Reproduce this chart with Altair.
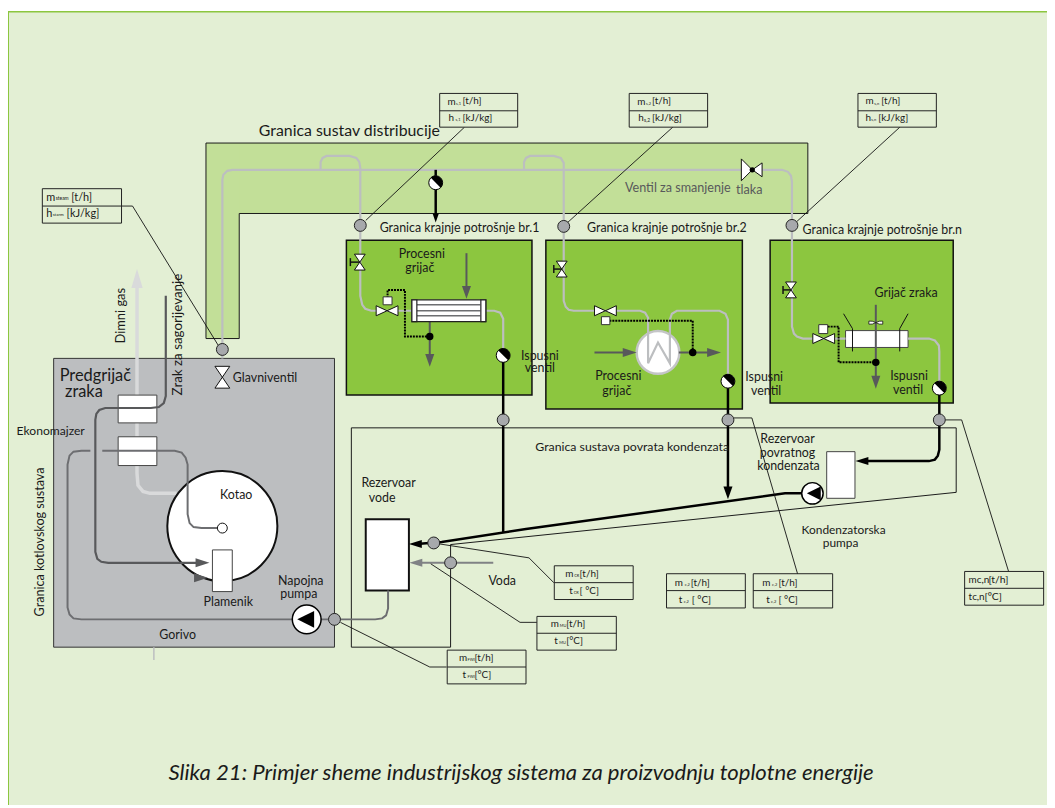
import altair as alt
import pandas as pd

FONT = "Lato"
BG = "#e3efd4"
GREEN = "#8cc63f"

# ---- filled regions: [left, top, right, bottom] -------------------------------
PANEL = [[8, 9, 1055, 808]]
FRAME_TOP = [[8, 8, 1055, 9.5]]
FRAME_LEFT = [[8, 8, 9, 808]]
DISTRIBUTION_A = [[207.5, 141, 814, 212]]
DISTRIBUTION_B = [[207.5, 141, 241, 338]]
BOILER_ZONE = [[54, 358, 337, 649]]
GREEN_BOXES = [[349, 239, 536, 395], [550, 239, 748, 409], [776, 239, 960.5, 403]]
WHITE_BOXES = [[119, 395, 158, 423], [119, 437, 158, 466],
               [833, 452, 861.5, 499], [852, 330, 915, 347]]
BURNER = [[214, 551, 234, 593]]
TANK = [[368.5, 520, 412, 592]]
EXCHANGER = [[415, 299, 489.5, 321]]
EXCHANGER_ENDS = [[415, 299, 420, 321], [484.5, 299, 489.5, 321]]
CTRL_SQUARES = [[386, 296, 395, 304], [606, 316, 614.5, 324], [825, 324, 834, 333]]
TABLES = [[42.6, 187, 122.4, 221.7], [443, 91, 521.6, 125], [634, 91, 713, 125],
          [864.5, 91, 943.5, 125], [450.6, 652, 530, 686], [558.5, 567, 638, 601],
          [541, 618, 621, 652], [671.6, 575, 751, 609.5], [759, 575, 839, 609.5],
          [972, 572.7, 1051.6, 606.7]]
TABLE_RULES = [[[42.6, 204.5], [122.4, 204.5]], [[443, 108.5], [521.6, 108.5]],
               [[634, 108.5], [713, 108.5]], [[864.5, 108.5], [943.5, 108.5]],
               [[450.6, 669], [530, 669]], [[558.5, 584], [638, 584]],
               [[541, 635], [621, 635]], [[671.6, 592], [751, 592]],
               [[759, 592], [839, 592]], [[972, 589.7], [1051.6, 589.7]]]

# condensate zone as an area: x, top, bottom
COND_X = [354, 454, 454, 963.5]
COND_TOP = [428, 428, 428, 428]
COND_BOTTOM = [649, 649, 545.6, 493]
COND_OUTLINE = [[[354, 428], [963.5, 428], [963.5, 493], [454, 545.6], [454, 649], [354, 649], [354, 428]]]
DIST_OUTLINE = [[[207.5, 338], [207.5, 141], [814, 141], [814, 212], [241, 212], [241, 338], [207.5, 338]]]

# ---- pipes -------------------------------------------------------------------
STEAM = [
    [[224, 358], [224, 178], [225, 173], [229, 169], [234, 168], [788, 168], [794, 170], [797, 174], [798, 180],
     [798, 326], [800, 333], [803, 336], [809, 338], [852, 338]],
    [[323, 168], [323, 160], [325, 156], [329, 154], [352, 154], [359, 156], [362, 160], [363, 166], [363, 295],
     [365, 304], [368, 308], [374, 310], [415, 310]],
    [[489, 310], [498, 310], [504, 312], [507, 318], [507, 355]],
    [[528, 168], [528, 160], [530, 156], [534, 154], [558, 154], [565, 156], [568, 161], [568, 300], [570, 306],
     [573, 309], [578, 310], [645, 310], [650, 312], [653, 317], [653, 363], [663, 342], [675, 363], [675, 319],
     [677, 313], [682, 310], [725, 310], [731, 313], [733.5, 319], [733.5, 381]],
    [[915, 338], [936, 338], [942, 340], [946, 345], [946.5, 351], [946.5, 388]],
]
FLUE = [[[138, 287], [138, 474], [139, 486], [144, 492], [151, 494], [178, 494]]]
AIR = [[[167, 295], [167, 396], [165, 403], [160, 407], [152, 408], [106, 408], [100, 410], [97, 414], [96, 420],
        [96, 553], [98, 560], [102, 563], [109, 564], [204, 564]]]
FEED = [[[391, 592], [391, 610], [389, 617], [385, 620], [378, 621], [82, 621], [74, 620], [70, 616], [68, 609],
         [68, 465], [70, 456], [74, 452], [82, 451], [91, 451]],
        [[103, 451], [176, 451], [183, 453], [187, 458], [189, 465], [189, 515], [191, 524], [195, 528], [203, 529], [220, 529]]]
SUPPLY = [[[497, 564], [420, 564]]]
PROCESS = [[[470, 252], [470, 290]], [[433, 321], [433, 358]], [[599, 352], [632, 352]], [[684, 352], [716, 352]], [[882.5, 304], [882.5, 380]]]
CONDENSATE = [[[507, 355], [507, 533]], [[733.5, 381], [733.5, 492]],
              [[946.5, 388], [946.5, 450], [945, 456], [942, 460], [936, 461.5], [871, 461.5]],
              [[808, 494], [791, 494], [530, 530], [445, 543], [420, 545]],
              [[439, 168], [439, 214]]]
CONTROL = [[[433, 336], [408, 336], [408, 289], [390.5, 289], [390.5, 297]],
           [[614, 320], [698, 320], [698, 352]],
           [[834, 326], [845, 326], [845, 362], [882.5, 362]]]
LEADERS = [[[122, 204.5], [133.5, 204.5], [221, 346.7]], [[468, 125], [368.5, 219]], [[679, 124], [572, 221]],
           [[910, 122], [803, 220]], [[343, 624], [433, 669], [450, 669]], [[443, 545], [533, 559], [558, 584]],
           [[434, 565], [524, 624], [541, 624]], [[739, 418], [757.6, 418], [804.5, 578]],
           [[952.5, 420], [969, 420], [1017, 575]]]
HEATER_SIDES = [[[850, 313], [859, 328], [859, 351]], [[915, 313], [906.6, 328], [906.6, 351]]]
STEMS = [[[353, 257], [353, 265]], [[353, 261], [362, 261]], [[558, 264], [558, 272]], [[558, 268], [566, 268]],
         [[789, 285], [789, 293]], [[789, 289], [797, 289]]]
FUEL_TICK = [[[155, 649], [155, 662]]]
TUBES = [[[420, 304], [484, 304]], [[420, 310], [484, 310]], [[420, 315], [484, 315]]]

# ---- symbols -----------------------------------------------------------------
GAUGES = [[224, 349], [363, 224], [568, 225], [798, 224], [507, 420], [733.5, 420], [946.5, 420], [337, 621], [437, 544], [454, 564]]
BALLS = [[439, 181], [507, 355], [733.5, 381], [946.5, 388]]
DOTS = [[433, 336], [698, 352], [882.5, 362]]
SMALL_CIRCLES = [[224, 529]]
V_VALVES = [[224, 377]]
V_VALVES_SMALL = [[362.5, 261], [566, 268], [797, 289]]
H_VALVES = [[390, 310], [610, 310], [830, 338]]
RED_VALVE_L = [[752.5, 168]]
RED_VALVE_R = [[763, 168]]
VALVE_HUB = [[758, 168]]
FANS = [[882.5, 322]]
BOILER = [[224, 527]]
MIXER = [[663, 352]]
PUMP_FEED = [[309, 621]]
PUMP_COND = [[818.6, 494]]
PUMP_FEED_HEAD = [[308, 621]]
PUMP_COND_HEAD = [[820, 494]]
HEAD_FLUE = [[138, 277.5]]
HEAD_PROCESS_DOWN = [[470, 291.5], [433, 360], [882.5, 382]]
HEAD_PROCESS_RIGHT = [[634.5, 352], [719.5, 352], [204, 564], [202.5, 579]]
HEAD_BLACK_SMALL = [[439, 216.5]]
HEAD_BLACK_DOWN = [[733.5, 493.5]]
HEAD_BLACK_LEFT = [[418.5, 545], [868.5, 461.5]]
HEAD_SUPPLY_LEFT = [[419, 564]]

# ---- texts: x, y, label, size ----------------------------------------------
LABELS = [
    [352, 129, "Granica sustav distribucije", 16],
    [96, 376, "Predgrijač", 16.5], [84.5, 392, "zraka", 16.5],
    [267, 378, "Glavniventil", 12.5],
    [425, 253, "Procesni", 12.5], [423, 267, "grijač", 12.5],
    [463, 227, "Granica krajnje potrošnje br.1", 12.5],
    [672, 227, "Granica krajnje potrošnje br.2", 12.5],
    [889, 229, "Granica krajnje potrošnje br.n", 12.5],
    [544, 356, "Ispusni", 12.5], [544, 368, "ventil", 12.5],
    [770, 377, "Ispusni", 12.5], [772, 391, "ventil", 12.5],
    [916, 376, "Ispusni", 12.5], [915, 390, "ventil", 12.5],
    [623, 376, "Procesni", 12.5], [621.5, 391, "grijač", 12.5],
    [913, 292, "Grijač  zraka", 12.5],
    [51, 431, "Ekonomajzer", 12.2],
    [238, 496, "Kotao", 12.5], [230, 604, "Plamenik", 12.5],
    [303, 582, "Napojna", 12.5], [301, 595, "pumpa", 12.5], [179, 637, "Gorivo", 12.5],
    [391.5, 484, "Rezervoar", 12.5], [385, 499, "vode", 12.5], [506, 582, "Voda", 12.5],
    [637, 447, "Granica sustava povrata kondenzata", 12.4],
    [793.5, 439, "Rezervoar", 12.5], [793.5, 453, "povratnog", 12.5], [794.5, 466, "kondenzata", 12.5],
    [850, 531, "Kondenzatorska", 12], [847, 544, "pumpa", 12],
]
GREY_LABELS = [[683, 186, "Ventil za smanjenje", 12.7], [755, 188, "tlaka", 12.7]]
ROTATED = [[122, 315, "Dimni gas", 13], [179, 334, "Zrak za sagorijevanje", 13.5], [40, 543, "Granica kotlovskog sustava", 12.7]]
TABLE_TEXT = [
    [46.6, 196, "m", 11], [56, 196.5, "steam", 5], [71.7, 196, "[t/h]", 11],
    [46.6, 213, "h", 11], [53, 214, "starm", 4.5], [67, 213, "[kJ/kg]", 11],
    [451, 100, "m", 10], [459.5, 101.5, "s,1", 4], [466, 99, "[t/h]", 10],
    [452, 116, "h", 10], [459, 117.5, "s,1", 4], [466, 116, "[kJ/kg]", 10],
    [642, 100, "m", 10], [651, 101.5, "s,2", 4], [657, 99, "[t/h]", 10],
    [643, 116, "h", 10], [649, 117.5, "s,2", 5], [657, 116, "[kJ/kg]", 10],
    [872, 99, "m", 10], [881, 101.5, "s,n", 4], [888, 99, "[t/h]", 10],
    [872, 116, "h", 10], [878, 117.5, "s,n", 4], [885, 116, "[kJ/kg]", 10],
    [462.5, 660, "m", 10], [471, 662, "FWI", 4], [478, 660, "[t/h]", 10],
    [466, 677, "t", 10], [471, 679, "FWI", 4], [478, 677, "[°C]", 10],
    [569.5, 575, "m", 10], [578.5, 577, "CR", 4], [584, 575, "[t/h]", 10],
    [573.5, 592, "t", 10], [578, 594, "CR", 4], [584, 592, "[ °C]", 10],
    [555, 626, "m", 10], [564, 628, "MU", 4], [570.5, 626, "[t/h]", 10],
    [558.5, 643, "t", 10], [563.5, 645, "MU", 4], [570.5, 643, "[°C]", 10],
    [680, 584, "m", 10], [690, 586, "c,2", 4], [696, 584, "[t/h]", 10],
    [684, 601, "t", 10], [689, 603, "c,2", 4], [697, 601, "[ °C]", 10],
    [768, 584, "m", 10], [778, 586, "c,2", 4], [784.4, 584, "[t/h]", 10],
    [772, 601, "t", 10], [777, 603, "c,2", 4], [784.4, 601, "[ °C]", 10],
    [976, 581, "mc,n", 10], [996, 581, "[t/h]", 10.5],
    [976, 598, "tc,n", 10], [992, 598, "[ºC]", 10.5],
]
CAPTION = [[525, 776, "Slika 21: Primjer sheme industrijskog sistema za proizvodnju toplotne energije", 22.3]]

# ---- scales and helpers ------------------------------------------------------
X = alt.Scale(domain=[8, 1055], range=[0, 1047], nice=False, zero=False)
Y = alt.Scale(domain=[808, 8], range=[800, 0], nice=False, zero=False)
x_ = alt.X("x:Q", scale=X, axis=None)
y_ = alt.Y("y:Q", scale=Y, axis=None)


def rects(rows, **style):
    df = pd.DataFrame(rows, columns=["x", "y", "x2", "y2"])
    return alt.Chart(df).mark_rect(**style).encode(x=x_, y=y_, x2="x2:Q", y2="y2:Q")


def paths(rows, **style):
    recs = [{"g": g, "i": i, "x": p[0], "y": p[1]} for g, path in enumerate(rows) for i, p in enumerate(path)]
    return alt.Chart(pd.DataFrame(recs)).mark_line(**style).encode(
        x=x_, y=y_, detail="g:N", order="i:Q")


def points(rows, shape, size, fill, stroke=None, width=0):
    df = pd.DataFrame(rows, columns=["x", "y"])
    kw = {"stroke": stroke, "strokeWidth": width} if stroke else {"strokeWidth": 0}
    return alt.Chart(df).mark_point(filled=True, opacity=1, fill=fill, shape=shape, size=size, **kw).encode(x=x_, y=y_)


def texts(rows, **style):
    df = pd.DataFrame(rows, columns=["x", "y", "t", "s"])
    return alt.Chart(df).mark_text(baseline="middle", **style).encode(
        x=x_, y=y_, text="t:N", size=alt.Size("s:Q", scale=None))


HOURGLASS = "M-0.68,-1L0.68,-1L-0.68,1L0.68,1Z"
BOWTIE = "M-1,-0.46L1,0.46L1,-0.46L-1,0.46Z"
RED_L = "M-0.5,-1L0.5,0L-0.5,1Z"
RED_R = "M0.7,-1L-0.7,0L0.7,1Z"
TRI_DOWN = "M-0.7,-1L0.7,-1L0,1Z"
TRI_UP = "M-0.6,1L0.6,1L0,-1Z"
TRI_RIGHT = "M-1,-0.65L1,0L-1,0.65Z"
TRI_LEFT = "M1,-0.62L-1,0L1,0.62Z"
PUMP_TRI = "M1,-1L-1,0L1,1Z"
HALF_BALL = "M-0.707,-0.707A1,1 0 0 1 0.707,0.707Z"
LENS = "M-1,-0.22Q-0.5,-0.3 0,0Q0.5,-0.3 1,-0.22L1,0.22Q0.5,0.3 0,0Q-0.5,0.3 -1,0.22Z"

cond = alt.Chart(pd.DataFrame({"x": COND_X, "y": COND_TOP, "y2": COND_BOTTOM, "i": range(len(COND_X))})).mark_area(
    color="#e6e7e8", interpolate="linear", line=False).encode(x=x_, y=y_, y2="y2:Q", order="i:Q")

layers = [
    rects(PANEL, fill=BG),
    rects(FRAME_TOP, fill=GREEN),
    rects(FRAME_LEFT, fill=GREEN),
    rects(DISTRIBUTION_A, fill="#c2df98"),
    rects(DISTRIBUTION_B, fill="#c2df98"),
    paths(DIST_OUTLINE, color="#1a1a1a", strokeWidth=1),
    rects(BOILER_ZONE, fill="#bcbec0", stroke="#333333", strokeWidth=1),
    cond,
    paths(COND_OUTLINE, color="#1a1a1a", strokeWidth=1),
    rects(GREEN_BOXES, fill=GREEN, stroke="#111111", strokeWidth=1.5),
    paths(FLUE, color="#d9dadb", strokeWidth=3.5),
    rects(TANK, fill="#ffffff", stroke="#111111", strokeWidth=2),
    rects(WHITE_BOXES, fill="#ffffff", stroke="#444444", strokeWidth=1),
    points(BOILER, "circle", 12300, "#ffffff", "#111111", 2),
    rects(BURNER, fill="#ffffff", stroke="#444444", strokeWidth=1),
    points(MIXER, "circle", 1850, "#ffffff", "#c4c5c7", 2.5),
    paths(STEAM, color="#bcbec0", strokeWidth=2.2),
    paths(AIR, color="#58595b", strokeWidth=2.2),
    paths(FEED, color="#6d6e71", strokeWidth=2),
    paths(SUPPLY, color="#808285", strokeWidth=2),
    paths(PROCESS, color="#58595b", strokeWidth=2),
    paths(CONDENSATE, color="#000000", strokeWidth=2.5),
    paths(CONTROL, color="#000000", strokeWidth=2, strokeDash=[2, 1]),
    paths(LEADERS, color="#111111", strokeWidth=0.9),
    paths(HEATER_SIDES, color="#111111", strokeWidth=1),
    paths(STEMS, color="#111111", strokeWidth=1.5),
    paths(FUEL_TICK, color="#bcbec0", strokeWidth=1.5),
    rects(EXCHANGER, fill="#ffffff", stroke="#222222", strokeWidth=1.2),
    paths(TUBES, color="#6d6e71", strokeWidth=1.5),
    rects(EXCHANGER_ENDS, fill="#ffffff", stroke="#222222", strokeWidth=1.2),
    rects(CTRL_SQUARES, fill="#ffffff", stroke="#333333", strokeWidth=1),
    points(GAUGES, "circle", 144, "#a7a9ac", "#222222", 1),
    points(BALLS, "circle", 196, "#ffffff", "#000000", 1),
    points(BALLS, HALF_BALL, 196, "#000000"),
    points(DOTS, "circle", 56, "#000000"),
    points(SMALL_CIRCLES, "circle", 100, "#ffffff", "#111111", 1),
    points(V_VALVES, HOURGLASS, 484, "#ffffff", "#111111", 1),
    points(V_VALVES_SMALL, HOURGLASS, 256, "#ffffff", "#111111", 1),
    points(H_VALVES, BOWTIE, 484, "#ffffff", "#111111", 1),
    points(RED_VALVE_L, RED_L, 484, "#ffffff", "#111111", 1),
    points(RED_VALVE_R, RED_R, 196, "#ffffff", "#111111", 1),
    points(VALVE_HUB, "circle", 28, "#000000"),
    points(FANS, LENS, 196, "#ffffff", "#111111", 0.8),
    points(PUMP_FEED, "circle", 841, "#ffffff", "#000000", 1.5),
    points(PUMP_COND, "circle", 467, "#ffffff", "#000000", 1.5),
    points(PUMP_FEED_HEAD, PUMP_TRI, 289, "#000000"),
    points(PUMP_COND_HEAD, PUMP_TRI, 196, "#000000"),
    points(HEAD_FLUE, TRI_UP, 361, "#d9dadb"),
    points(HEAD_PROCESS_DOWN, TRI_DOWN, 169, "#58595b"),
    points(HEAD_PROCESS_RIGHT, TRI_RIGHT, 196, "#58595b"),
    points(HEAD_BLACK_SMALL, TRI_DOWN, 81, "#000000"),
    points(HEAD_BLACK_DOWN, TRI_DOWN, 169, "#000000"),
    points(HEAD_BLACK_LEFT, TRI_LEFT, 169, "#000000"),
    points(HEAD_SUPPLY_LEFT, TRI_LEFT, 169, "#808285"),
    rects(TABLES, fill=BG, stroke="#222222", strokeWidth=1),
    paths(TABLE_RULES, color="#222222", strokeWidth=1),
    texts(LABELS, font=FONT, color="#1a1a1a", align="center"),
    texts(GREY_LABELS, font=FONT, color="#58595b", align="center"),
    texts(ROTATED, font=FONT, color="#1a1a1a", align="center", angle=270),
    texts(TABLE_TEXT, font=FONT, color="#1a1a1a", align="left"),
    texts(CAPTION, font=FONT, color="#1a1a1a", align="center", fontStyle="italic"),
]

chart = alt.layer(*layers).properties(
    width=1047, height=800, padding=0,
    autosize=alt.AutoSizeParams(type="none"),
).configure_view(stroke=None)

chart.save("out.html", embed_options={"renderer": "svg", "actions": False})
